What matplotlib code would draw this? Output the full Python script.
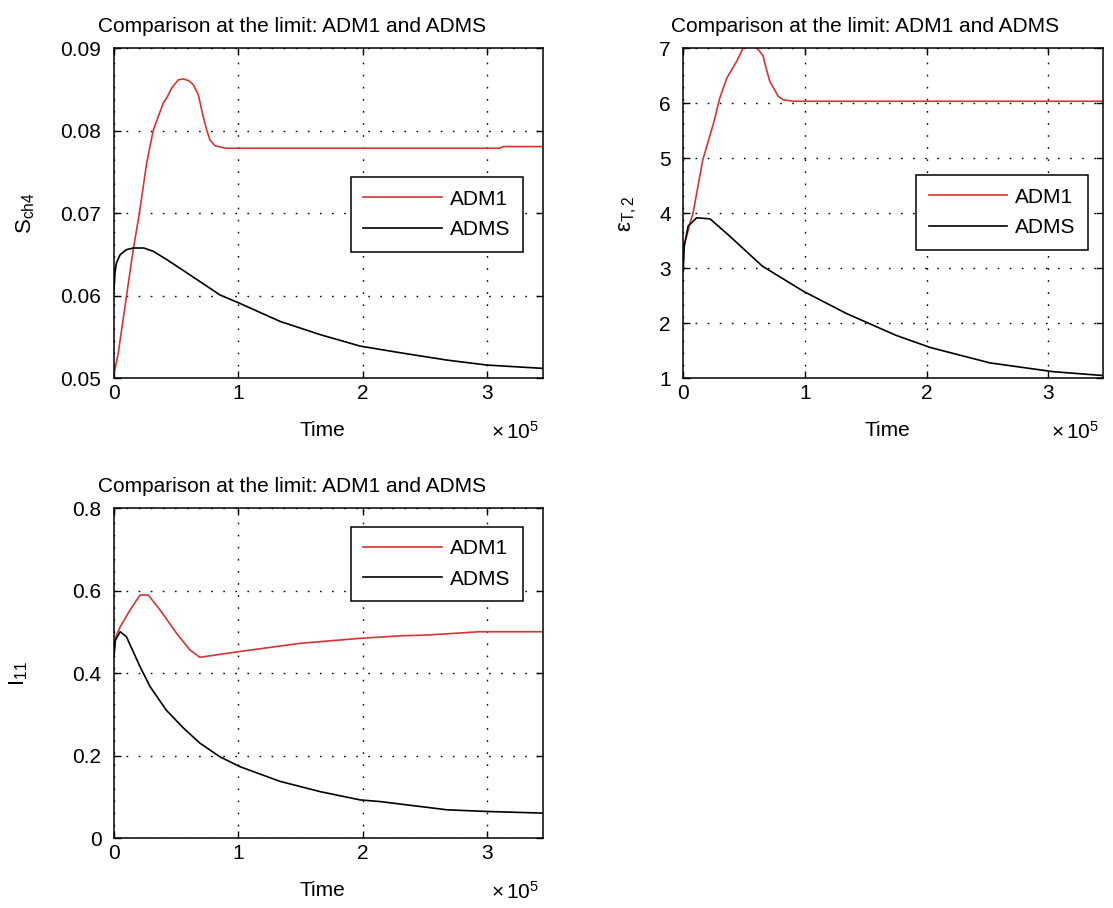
import matplotlib
matplotlib.use('Agg')
import matplotlib.pyplot as plt
from matplotlib.ticker import FuncFormatter, FormatStrFormatter

plt.rcParams['font.family'] = ['Liberation Sans', 'DejaVu Sans']
plt.rcParams['mathtext.fontset'] = 'custom'
plt.rcParams['mathtext.rm'] = 'Liberation Sans'
plt.rcParams['mathtext.it'] = 'Liberation Sans'

TIME_SCALE = 1e5
title_text = 'Comparison at the limit: ADM1 and ADMS'
series_names = ['ADM1', 'ADMS']

# S_ch4 (time in units of 1e5)
t_sch4_adm1 = [0, 0.035, 0.10, 0.155, 0.204, 0.263, 0.316, 0.37, 0.397, 0.424, 0.464,
               0.517, 0.558, 0.60, 0.638, 0.678, 0.718, 0.746, 0.772, 0.812, 0.9, 1.5,
               2.5, 3.1, 3.13, 3.45]
sch4_adm1 = [0.0505, 0.0531, 0.0599, 0.0656, 0.0700, 0.0761, 0.0801, 0.0823, 0.0834, 0.0840,
             0.0852, 0.0862, 0.0863, 0.0861, 0.0856, 0.0844, 0.0817, 0.0801, 0.0789, 0.0782,
             0.0779, 0.0779, 0.0779, 0.0779, 0.0781, 0.0781]
t_sch4_adms = [0, 0.008, 0.02, 0.05, 0.10, 0.155, 0.24, 0.316, 0.424, 0.585, 0.853, 1.01,
               1.335, 1.657, 1.98, 2.3, 2.68, 3.0, 3.45]
sch4_adms = [0.0607, 0.0628, 0.0640, 0.0650, 0.0656, 0.0658, 0.0658, 0.0654, 0.0644, 0.0628,
             0.0601, 0.0591, 0.0569, 0.0553, 0.0539, 0.0531, 0.0522, 0.0516, 0.0512]

# eps_T,2
t_eps_adm1 = [0, 0.03, 0.055, 0.08, 0.16, 0.25, 0.30, 0.36, 0.44, 0.49, 0.52, 0.58, 0.61,
              0.655, 0.68, 0.71, 0.74, 0.78, 0.82, 0.9, 3.45]
eps_adm1 = [3.4, 3.6, 3.82, 4.0, 4.97, 5.65, 6.1, 6.47, 6.77, 7.0, 7.05, 7.05, 7.0,
            6.87, 6.65, 6.41, 6.29, 6.13, 6.07, 6.04, 6.04]
t_eps_adms = [0, 0.008, 0.04, 0.11, 0.22, 0.38, 0.65, 0.99, 1.34, 1.75, 2.03, 2.52, 3.04, 3.45]
eps_adms = [2.95, 3.4, 3.77, 3.92, 3.9, 3.59, 3.04, 2.58, 2.18, 1.78, 1.56, 1.28, 1.12, 1.05]

# I_11
t_i11_adm1 = [0, 0.015, 0.05, 0.13, 0.21, 0.276, 0.37, 0.504, 0.61, 0.69, 1.01, 1.5, 1.98,
              2.3, 2.52, 2.94, 3.45]
i11_adm1 = [0.45, 0.489, 0.513, 0.554, 0.59, 0.59, 0.554, 0.497, 0.457, 0.439, 0.453, 0.473,
            0.485, 0.491, 0.493, 0.501, 0.501]
t_i11_adms = [0, 0.01, 0.05, 0.1, 0.21, 0.29, 0.42, 0.56, 0.69, 0.85, 1.01, 1.335, 1.66,
              1.98, 2.14, 2.41, 2.68, 3.0, 3.45]
i11_adms = [0.44, 0.48, 0.501, 0.489, 0.416, 0.368, 0.311, 0.267, 0.231, 0.198, 0.174, 0.138,
            0.113, 0.093, 0.089, 0.079, 0.069, 0.065, 0.061]

RED = '#d83434'
FS = 15

def style_axes(ax, ylim, yticks, ylabel, ylabel_x, title_x, legend_box):
    ax.set_xlim(0, 3.45 * TIME_SCALE)
    ax.set_ylim(*ylim)
    ax.set_xticks([0, 1e5, 2e5, 3e5])
    ax.set_yticks(yticks)
    ax.xaxis.set_major_formatter(FuncFormatter(lambda x, p: '%g' % (x / TIME_SCALE)))
    ax.yaxis.set_major_formatter(FormatStrFormatter('%g'))
    ax.tick_params(direction='in', length=5, width=1, top=True, right=True,
                   labelsize=FS, colors='black')
    ax.tick_params(axis='y', pad=9)
    ax.tick_params(axis='x', pad=4)
    for s in ax.spines.values():
        s.set_linewidth(1.1)
        s.set_color('black')
    ax.grid(True, color='black', linestyle=(0, (1.2, 7.5)), linewidth=1)
    ax.set_title(title_text, fontsize=FS, x=title_x, pad=12)
    ax.set_xlabel('Time', fontsize=FS)
    ax.xaxis.set_label_coords(0.486, -0.13)
    ax.set_ylabel(ylabel, fontsize=FS + 1)
    ax.yaxis.set_label_coords(ylabel_x, 0.5)
    ax.text(0.99, -0.13, r'$\times\,10^{5}$', transform=ax.transAxes, ha='right', va='top',
            fontsize=FS)
    leg = ax.legend(series_names, loc='upper right', bbox_to_anchor=legend_box,
                    borderaxespad=0, fontsize=FS, handlelength=3.75, handletextpad=0.4,
                    borderpad=0.6, labelspacing=0.55, fancybox=False, framealpha=1)
    leg.get_frame().set_edgecolor('black')
    leg.get_frame().set_linewidth(1.1)

fig = plt.figure(figsize=(11.13, 9.08), dpi=100)

ax1 = fig.add_axes([0.1024, 0.5834, 0.3855, 0.3632])
ax1.plot([t * TIME_SCALE for t in t_sch4_adm1], sch4_adm1, color=RED, lw=1.2)
ax1.plot([t * TIME_SCALE for t in t_sch4_adms], sch4_adms, color='black', lw=1.2)
style_axes(ax1, (0.05, 0.09), [0.05, 0.06, 0.07, 0.08, 0.09], r'S$_{ch4}$', -0.18, 0.415,
           (0.953, 0.61))

ax2 = fig.add_axes([0.6139, 0.5834, 0.3771, 0.3632])
ax2.plot([t * TIME_SCALE for t in t_eps_adm1], eps_adm1, color=RED, lw=1.2)
ax2.plot([t * TIME_SCALE for t in t_eps_adms], eps_adms, color='black', lw=1.2)
style_axes(ax2, (1, 7), [1, 2, 3, 4, 5, 6, 7], r'ε$_{T,2}$', -0.105, 0.433,
           (0.965, 0.616))

ax3 = fig.add_axes([0.1024, 0.0768, 0.3855, 0.3632])
ax3.plot([t * TIME_SCALE for t in t_i11_adm1], i11_adm1, color=RED, lw=1.2)
ax3.plot([t * TIME_SCALE for t in t_i11_adms], i11_adms, color='black', lw=1.2)
style_axes(ax3, (0, 0.8), [0, 0.2, 0.4, 0.6, 0.8], r'I$_{11}$', -0.196, 0.415,
           (0.953, 0.945))

fig.savefig('out.png', dpi=100)
